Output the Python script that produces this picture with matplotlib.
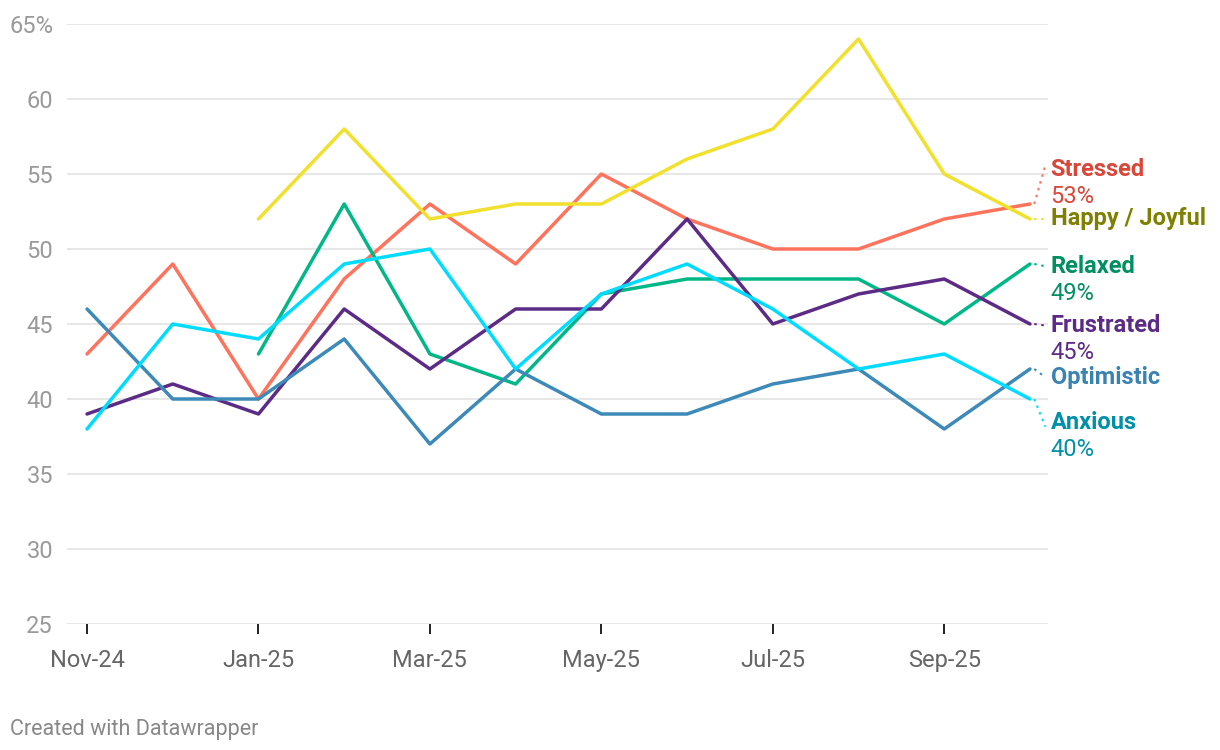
import numpy as np
import matplotlib
matplotlib.use("Agg")
import matplotlib.pyplot as plt

plt.rcParams['font.family'] = ['Roboto', 'DejaVu Sans']

months = ["Nov-24", "Dec-24", "Jan-25", "Feb-25", "Mar-25", "Apr-25",
          "May-25", "Jun-25", "Jul-25", "Aug-25", "Sep-25", "Oct-25"]
nan = np.nan
stressed = [43, 49, 40, 48, 53, 49, 55, 52, 50, 50, 52, 53]
happy = [nan, nan, 52, 58, 52, 53, 53, 56, 58, 64, 55, 52]
relaxed = [nan, nan, 43, 53, 43, 41, 47, 48, 48, 48, 45, 49]
frustrated = [39, 41, 39, 46, 42, 46, 46, 52, 45, 47, 48, 45]
optimistic = [46, 40, 40, 44, 37, 42, 39, 39, 41, 42, 38, 42]
anxious = [38, 45, 44, 49, 50, 42, 47, 49, 46, 42, 43, 40]

names = ["Stressed", "Happy / Joyful", "Relaxed", "Frustrated", "Optimistic", "Anxious"]
series = [stressed, happy, relaxed, frustrated, optimistic, anxious]
line_colors = ["#ff735c", "#f1e02c", "#00b887", "#5b2b86", "#3d8ab8", "#00dcff"]
text_colors = ["#d8473a", "#7f7f00", "#008f5f", "#5b2b86", "#3a82b0", "#0090a8"]
show_value = [True, False, True, True, False, True]
# label y position (data units) for the name line
label_y = [55.3, 52.0, 48.85, 44.9, 41.45, 38.45]

fig = plt.figure(figsize=(12.2, 7.5), dpi=100)
ax = fig.add_axes([0.0549, 0.168, 0.8041, 0.8])

x = np.arange(len(months))
for vals, c in zip(series, line_colors):
    ax.plot(x, vals, color=c, lw=2.5, solid_joinstyle='round', solid_capstyle='round', zorder=3)

lx = 11.24
for name, vals, c, tc, sv, ly in zip(names, series, line_colors, text_colors, show_value, label_y):
    last = vals[-1]
    ax.plot([11.05, lx - 0.06], [last, ly + (0.3 if ly > last + 1 else (-0.3 if ly < last - 1 else 0))],
            color=c, lw=1.5, ls=(0, (1.2, 2.2)), clip_on=False, zorder=2)
    ax.text(lx, ly, name, color=tc, fontsize=17, fontweight='bold', va='center', ha='left')
    if sv:
        ax.text(lx, ly - 1.8, "%d%%" % last, color=tc, fontsize=17, va='center', ha='left')

ax.set_xlim(-0.234, 11.21)
ax.set_ylim(25, 65)
yt = np.arange(25, 66, 5)
ax.set_yticks(yt)
ax.set_yticklabels([str(v) if v != 65 else "65%" for v in yt])
ax.set_xticks(x[::2])
ax.set_xticklabels(months[::2])
ax.grid(axis='y', color='#e3e3e3', lw=1.2)
ax.set_axisbelow(True)
for s in ax.spines.values():
    s.set_visible(False)
ax.tick_params(axis='y', length=0, pad=10, labelsize=17, labelcolor='#9a9a9a')
ax.tick_params(axis='x', length=7, width=1.4, color='#222222', direction='out', pad=11,
               labelsize=17, labelcolor='#666666')

fig.text(0.008, 0.02, "Created with Datawrapper", fontsize=15.5, color='#888888')

fig.savefig("out.png", dpi=100)
